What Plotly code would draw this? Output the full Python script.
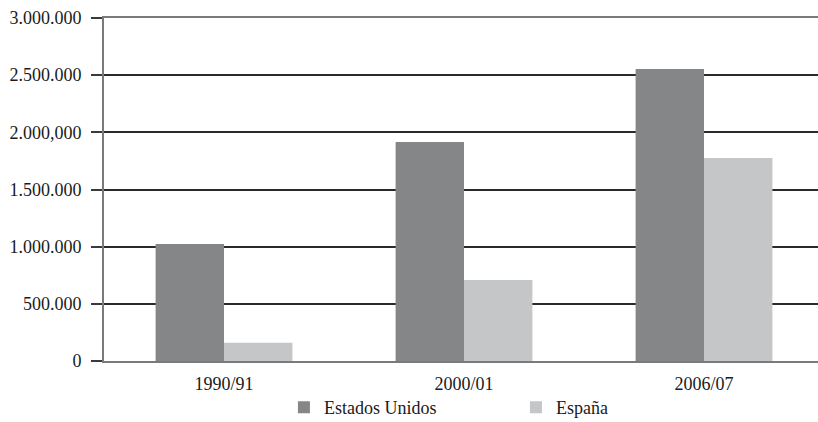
import plotly.graph_objects as go

categories = ["1990/91", "2000/01", "2006/07"]
estados_unidos = [1023000, 1915000, 2554000]
espana = [160000, 708000, 1776000]
series_names = ["Estados Unidos", "España"]
tick_vals = [0, 500000, 1000000, 1500000, 2000000, 2500000, 3000000]
tick_text = ["0", "500.000", "1.000.000", "1.500.000", "2.000,000", "2.500.000", "3.000.000"]

FONT = "Liberation Serif"

fig = go.Figure()
fig.add_trace(go.Bar(x=categories, y=estados_unidos, name=series_names[0],
                     marker=dict(color="#858687", line=dict(width=0))))
fig.add_trace(go.Bar(x=categories, y=espana, name=series_names[1],
                     marker=dict(color="#c5c6c7", line=dict(width=0))))

fig.update_layout(
    width=818, height=422,
    margin=dict(l=104, r=0, t=18, b=61, autoexpand=False),
    paper_bgcolor="white", plot_bgcolor="white",
    barmode="group", bargap=0.43, bargroupgap=0,
    font=dict(family=FONT, size=18, color="#1a1a1a"),
    showlegend=True,
    legend=dict(orientation="h", x=0.252, xanchor="left", y=-0.19, yanchor="bottom",
                entrywidth=187, entrywidthmode="pixels", bgcolor="rgba(0,0,0,0)",
                font=dict(family=FONT, size=18, color="#1a1a1a"),
                itemsizing="constant", tracegroupgap=0),
)
fig.update_xaxes(
    type="category", range=[-0.5, 2.475], automargin=False,
    showline=True, linecolor="#7a7a7a", linewidth=2, mirror=True,
    showgrid=False, ticks="", tickfont=dict(family=FONT, size=18, color="#1a1a1a"),
    ticklabelstandoff=5,
)
fig.update_yaxes(
    range=[0, 3000000], tickvals=tick_vals, ticktext=tick_text, automargin=False,
    showline=True, linecolor="#7a7a7a", linewidth=2,
    showgrid=True, gridcolor="#2a2a2a", gridwidth=1.5,
    ticks="outside", ticklen=11, tickcolor="#3a3a3a", tickwidth=1.5,
    tickfont=dict(family=FONT, size=18, color="#1a1a1a"),
    ticklabelstandoff=6,
    zeroline=False,
)

fig.write_html("out.html")
